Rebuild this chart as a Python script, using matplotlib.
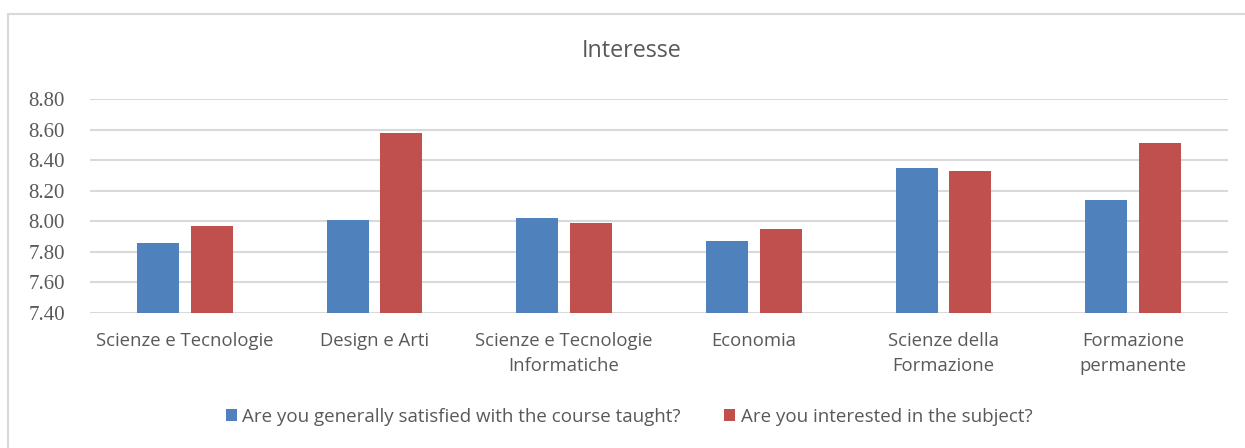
import numpy as np
import matplotlib
matplotlib.use("Agg")
import matplotlib.pyplot as plt
from matplotlib.patches import Rectangle

# Dati
categories = ["Scienze e Tecnologie", "Design e Arti", "Scienze e Tecnologie\nInformatiche",
              "Economia", "Scienze della\nFormazione", "Formazione\npermanente"]
satisfied = [7.86, 8.01, 8.02, 7.87, 8.35, 8.14]
interested = [7.97, 8.58, 7.99, 7.95, 8.33, 8.51]
series_names = ["Are you generally satisfied with the course taught?",
                "Are you interested in the subject?"]
yticks = [7.40, 7.60, 7.80, 8.00, 8.20, 8.40, 8.60, 8.80]

blue = "#4F81BD"
red = "#C0504D"
text_col = "#595959"
grid_col = "#D9D9D9"

fig = plt.figure(figsize=(12.45, 4.48), dpi=100)
ax = fig.add_axes([90 / 1245, 1 - 313 / 448, (1228 - 90) / 1245, (313 - 99) / 448])

# bordo del grafico (solo alto e sinistra visibili)
fig.patches.append(Rectangle((8 / 1245, -0.1), 1.2, 1.1 - 14 / 448, transform=fig.transFigure,
                             fill=False, edgecolor=grid_col, linewidth=1.5))

x = np.arange(len(categories))
w = 0.222
off = 0.142
base = yticks[0]
ax.bar(x - off, np.array(satisfied) - base, w, bottom=base, color=blue, label=series_names[0], zorder=3)
ax.bar(x + off, np.array(interested) - base, w, bottom=base, color=red, label=series_names[1], zorder=3)

ax.set_xlim(-0.5, len(categories) - 0.5)
ax.set_ylim(7.40, 8.80)
ax.set_yticks(yticks)
ax.set_yticklabels([f"{v:.2f}" for v in yticks], family="Liberation Serif", fontsize=15, color=text_col)
ax.set_xticks(x)
ax.set_xticklabels(categories, family="Open Sans", fontsize=13.3, color=text_col, linespacing=1.45)
ax.tick_params(axis="both", length=0)
ax.tick_params(axis="x", pad=14)
ax.tick_params(axis="y", pad=18)
ax.yaxis.grid(True, color=grid_col, linewidth=1.5, zorder=0)
for s in ax.spines.values():
    s.set_visible(False)

fig.text(632 / 1245, 1 - 51 / 448, "Interesse", ha="center", va="center", family="Open Sans",
         fontsize=16.8, color=text_col)

ax.legend(loc="center", bbox_to_anchor=((629 - 90) / 1138, (313 - 417) / 214), ncol=2, frameon=False,
          handlelength=0.6, handleheight=0.6, handletextpad=0.3, columnspacing=2.3,
          prop={"family": "Open Sans", "size": 13.5}, labelcolor=text_col)

fig.savefig("out.png", dpi=100)
